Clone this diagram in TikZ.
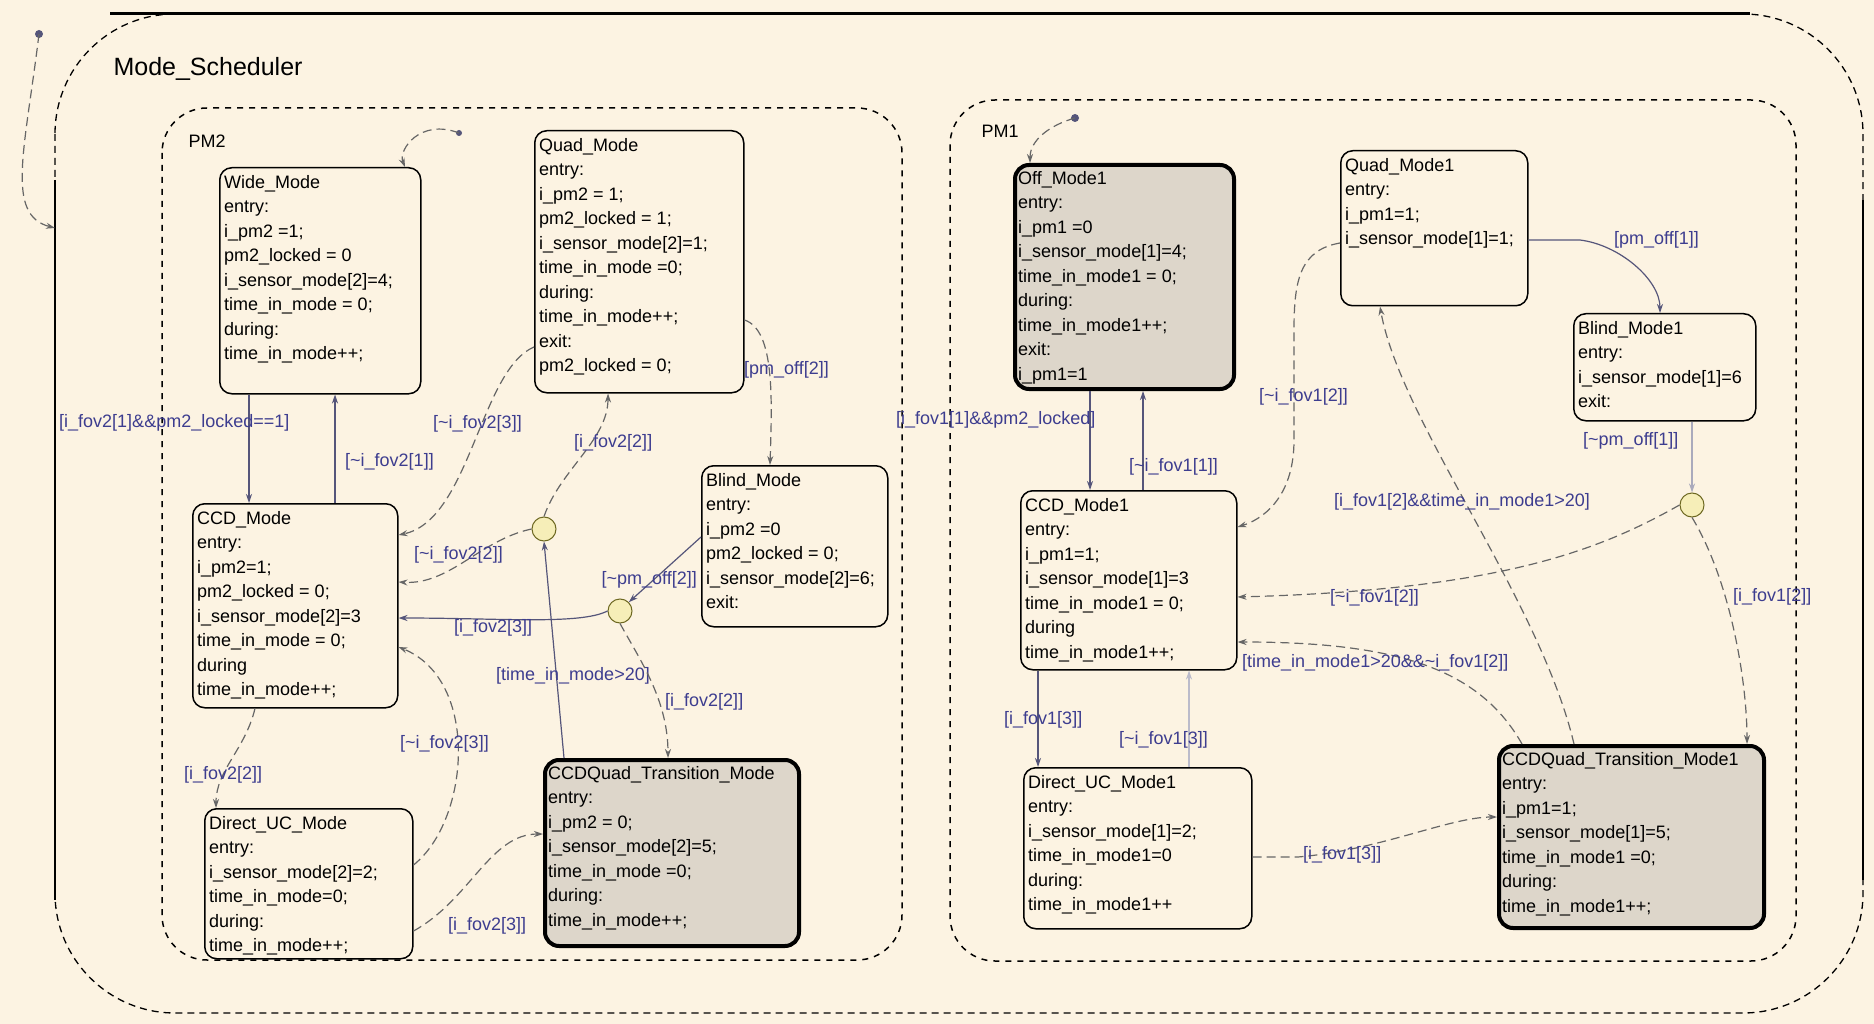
\documentclass[tikz,border=0pt]{standalone}
\usepackage{fontspec}
\setmainfont{Liberation Sans}
\usetikzlibrary{arrows.meta}

\definecolor{sfbg}{HTML}{FCF3E2}
\definecolor{sfgray}{HTML}{DDD6CA}
\definecolor{sflabel}{HTML}{3D3D8F}
\definecolor{sfline}{HTML}{55557A}
\definecolor{sfjunc}{HTML}{F6EEB8}

\newcommand{\tildech}{\textasciitilde}

\tikzset{
  statebox/.style={draw=black, line width=1.5pt, rounded corners=12pt},
  activebox/.style={draw=black, line width=4pt, rounded corners=14pt, fill=sfgray},
  statetext/.style={font=\fontsize{18}{24.5}\selectfont, align=left,
    inner xsep=5pt, inner ysep=8pt},
  guard/.style={font=\fontsize{18}{22}\selectfont, text=sflabel, inner sep=1pt, anchor=west},
  trans/.style={draw=sfline, line width=1.2pt, -{Stealth[length=9pt,width=6pt]}},
  dtrans/.style={trans, draw=black!60, dash pattern=on 9pt off 5pt},
  junction/.style={circle, draw=olive!70!black, fill=sfjunc, line width=1pt,
    minimum size=24pt, inner sep=0pt},
  chartline/.style={draw=black, line width=1.5pt, dash pattern=on 6pt off 6pt,
    rounded corners=45pt},
}

% (name, x, y, width, height, style, lines)
\newcommand{\modebox}[7]{
    \node[#6, minimum width=#4pt, minimum height=#5pt, anchor=north west]
      (#1) at (#2,#3) {};
    \node[statetext, anchor=north west] (#1-txt) at (#1.north west) {#7};
}

\begin{document}
\begin{tikzpicture}[x=1pt, y=-1pt]

  \fill[sfbg] (0,0) rectangle (1874,1024);
  \useasboundingbox (0,0) rectangle (1874,1024);

  % Mode_Scheduler
  \draw[line width=1.3pt, dash pattern=on 7pt off 5pt, rounded corners=120pt]
    (55,14) rectangle (1863,1013);
  \draw[line width=3pt] (110,14) -- (1750,14);
  \draw[line width=1.5pt] (55,180) -- (55,900);
  \draw[line width=1.5pt] (1863,200) -- (1863,880);
  \node[anchor=west, font=\fontsize{25}{28}\selectfont] (schedname) at (110,69) {Mode\_Scheduler};
  \fill[sfline] (39,34) circle (4pt);
  \draw[dtrans] (39,34) .. controls (25,150) and (5,215) .. (55,228);

  % PM2
  \draw[chartline] (162,108) rectangle (902,960);
  \node[anchor=west, font=\fontsize{18}{22}\selectfont] (pm2name) at (185,141) {PM2};

  \modebox{wide}{219}{167}{201}{226}{statebox}{Wide\_Mode\\entry:\\i\_pm2 =1;\\pm2\_locked = 0\\i\_sensor\_mode[2]=4;\\time\_in\_mode = 0;\\during:\\time\_in\_mode++;}
  \modebox{quad}{534}{130}{209}{262}{statebox}{Quad\_Mode\\entry:\\i\_pm2 = 1;\\pm2\_locked = 1;\\i\_sensor\_mode[2]=1;\\time\_in\_mode =0;\\during:\\time\_in\_mode++;\\exit:\\pm2\_locked = 0;}
  \modebox{ccd}{192}{503}{205}{204}{statebox}{CCD\_Mode\\entry:\\i\_pm2=1;\\pm2\_locked = 0;\\i\_sensor\_mode[2]=3\\time\_in\_mode = 0;\\during\\time\_in\_mode++;}
  \modebox{blind}{701}{465}{186}{161}{statebox}{Blind\_Mode\\entry:\\i\_pm2 =0\\pm2\_locked = 0;\\i\_sensor\_mode[2]=6;\\exit:}
  \modebox{dir}{204}{808}{208}{150}{statebox}{Direct\_UC\_Mode\\entry:\\i\_sensor\_mode[2]=2;\\time\_in\_mode=0;\\during:\\time\_in\_mode++;}
  \modebox{cqt}{543}{758}{254}{186}{activebox}{CCDQuad\_Transition\_Mode\\entry:\\i\_pm2 = 0;\\i\_sensor\_mode[2]=5;\\time\_in\_mode =0;\\during:\\time\_in\_mode++;}

  \node[junction] (jA) at (544,529) {};
  \node[junction] (jB) at (620,611) {};

  \fill[sfline] (459,133) circle (3pt);
  \draw[dtrans] (459,133) .. controls (420,118) and (398,150) .. (405,0 |- wide.north);

  \draw[trans] (249,0 |- wide.south) -- (249,0 |- ccd.north);
  \node[guard] (gA) at (58,423) {[i\_fov2[1]\&\&pm2\_locked==1]};
  \draw[trans] (335,0 |- ccd.north) -- (335,0 |- wide.south);
  \node[guard] (gB) at (344,462) {[\tildech i\_fov2[1]]};
  \draw[dtrans] (quad.west |- 0,347) .. controls (480,370) and (470,520) .. (ccd.east |- 0,535);
  \node[guard] (gC) at (432,424) {[\tildech i\_fov2[3]]};
  \draw[dtrans] (jA.north) .. controls (560,470) and (608,440) .. (608,0 |- quad.south);
  \node[guard] (gD) at (573,443) {[i\_fov2[2]]};
  \draw[dtrans] (jA.west) .. controls (480,540) and (450,585) .. (ccd.east |- 0,582);
  \node[guard] (gE) at (413,555) {[\tildech i\_fov2[2]]};
  \draw[trans] (jB.west) .. controls (580,625) and (500,618) .. (ccd.east |- 0,618);
  \node[guard] (gF) at (453,628) {[i\_fov2[3]]};
  \draw[trans] (564,0 |- cqt.north) -- (jA.south);
  \node[guard] (gG) at (495,676) {[time\_in\_mode>20]};
  \draw[trans] (blind.west |- 0,537) -- (jB.north east);
  \node[guard, anchor=east] (gH) at (698,580) {[\tildech pm\_off[2]]};
  \draw[dtrans] (jB.south) .. controls (640,660) and (668,700) .. (668,0 |- cqt.north);
  \node[guard] (gI) at (664,702) {[i\_fov2[2]]};
  \draw[dtrans] (quad.east |- 0,320) .. controls (775,330) and (772,400) .. (770,0 |- blind.north);
  \node[guard] (gJ) at (743,370) {[pm\_off[2]]};
  \draw[dtrans] (255,0 |- ccd.south) .. controls (245,750) and (216,770) .. (216,0 |- dir.north);
  \node[guard] (gK) at (183,775) {[i\_fov2[2]]};
  \draw[dtrans] (dir.east |- 0,865) .. controls (470,820) and (480,680) .. (ccd.east |- 0,647);
  \node[guard] (gL) at (399,744) {[\tildech i\_fov2[3]]};
  \draw[dtrans] (dir.east |- 0,931) .. controls (470,900) and (490,834) .. (cqt.west |- 0,834);
  \node[guard] (gM) at (447,926) {[i\_fov2[3]]};

  % PM1
  \draw[chartline] (950,100) rectangle (1796,961);
  \node[anchor=west, font=\fontsize{18}{22}\selectfont] (pm1name) at (978,131) {PM1};

  \modebox{off}{1013}{163}{219}{224}{activebox}{Off\_Mode1\\entry:\\i\_pm1 =0\\i\_sensor\_mode[1]=4;\\time\_in\_mode1 = 0;\\during:\\time\_in\_mode1++;\\exit:\\i\_pm1=1}
  \modebox{quadb}{1340}{150}{187}{155}{statebox}{Quad\_Mode1\\entry:\\i\_pm1=1;\\i\_sensor\_mode[1]=1;}
  \modebox{blindb}{1573}{313}{182}{107}{statebox}{Blind\_Mode1\\entry:\\i\_sensor\_mode[1]=6\\exit:}
  \modebox{ccdb}{1020}{490}{216}{179}{statebox}{CCD\_Mode1\\entry:\\i\_pm1=1;\\i\_sensor\_mode[1]=3\\time\_in\_mode1 = 0;\\during\\time\_in\_mode1++;}
  \modebox{dirb}{1023}{767}{228}{161}{statebox}{Direct\_UC\_Mode1\\entry:\\i\_sensor\_mode[1]=2;\\time\_in\_mode1=0\\during:\\time\_in\_mode1++}
  \modebox{cqtb}{1497}{744}{265}{182}{activebox}{CCDQuad\_Transition\_Mode1\\entry:\\i\_pm1=1;\\i\_sensor\_mode[1]=5;\\time\_in\_mode1 =0;\\during:\\time\_in\_mode1++;}

  \node[junction] (jC) at (1692,505) {};

  \fill[sfline] (1075,118) circle (4pt);
  \draw[dtrans] (1075,118) .. controls (1050,125) and (1030,140) .. (1030,0 |- off.north);

  \draw[trans] (1090,0 |- off.south) -- (1090,0 |- ccdb.north);
  \node[guard] (gN) at (895,420) {[i\_fov1[1]\&\&pm2\_locked]};
  \draw[trans] (1143,0 |- ccdb.north) -- (1143,0 |- off.south);
  \node[guard] (gO) at (1128,467) {[\tildech i\_fov1[1]]};
  \draw[dtrans] (quadb.west |- 0,243) .. controls (1300,250) and (1294,280) .. (1294,330)
    -- (1294,440) .. controls (1294,500) and (1260,520) .. (ccdb.east |- 0,527);
  \node[guard] (gP) at (1258,397) {[\tildech i\_fov1[2]]};
  \draw[trans] (quadb.east |- 0,240) -- (1580,240) .. controls (1620,245) and (1660,280) .. (1660,0 |- blindb.north);
  \node[guard] (gQ) at (1613,240) {[pm\_off[1]]};
  \draw[trans, draw=sfline!50] (1692,0 |- blindb.south) -- (jC.north);
  \node[guard] (gR) at (1582,441) {[\tildech pm\_off[1]]};
  \draw[dtrans] (jC.west) .. controls (1600,550) and (1500,590) .. (ccdb.east |- 0,597);
  \node[guard] (gS) at (1329,598) {[\tildech i\_fov1[2]]};
  \draw[dtrans] (jC.south) .. controls (1730,580) and (1747,680) .. (1747,0 |- cqtb.north);
  \node[guard] (gT) at (1732,597) {[i\_fov1[2]]};
  \draw[dtrans] (1574,0 |- cqtb.north) .. controls (1540,600) and (1400,420) .. (1380,0 |- quadb.south);
  \node[guard] (gU) at (1333,502) {[i\_fov1[2]\&\&time\_in\_mode1>20]};
  \draw[dtrans] (1522,0 |- cqtb.north) .. controls (1480,670) and (1400,642) .. (ccdb.east |- 0,642);
  \node[guard] (gV) at (1241,663) {[time\_in\_mode1>20\&\&\tildech i\_fov1[2]]};
  \draw[trans] (1038,0 |- ccdb.south) -- (1038,0 |- dirb.north);
  \node[guard] (gW) at (1003,720) {[i\_fov1[3]]};
  \draw[trans, draw=sfline!40] (1189,0 |- dirb.north) -- (1189,0 |- ccdb.south);
  \node[guard] (gX) at (1118,740) {[\tildech i\_fov1[3]]};
  \draw[dtrans] (dirb.east |- 0,857) -- (1298,857) .. controls (1380,850) and (1450,817) .. (cqtb.west |- 0,817);
  \node[guard] (gY) at (1302,855) {[i\_fov1[3]]};

\end{tikzpicture}
\end{document}
